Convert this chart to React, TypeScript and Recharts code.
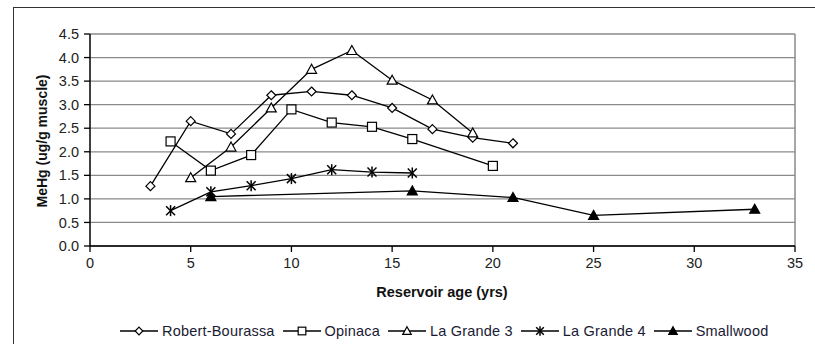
import React from 'react';
import {
  LineChart, Line, XAxis, YAxis, CartesianGrid, ReferenceLine, Label,
} from 'recharts';

// reservoir age (yrs) and MeHg (ug/g muscle) per reservoir
const rbAge = [3, 5, 7, 9, 11, 13, 15, 17, 19, 21];
const rbHg = [1.27, 2.65, 2.38, 3.2, 3.28, 3.2, 2.93, 2.48, 2.3, 2.18];

const opAge = [4, 6, 8, 10, 12, 14, 16, 20];
const opHg = [2.22, 1.6, 1.93, 2.9, 2.62, 2.53, 2.27, 1.7];

const lg3Age = [5, 7, 9, 11, 13, 15, 17, 19];
const lg3Hg = [1.45, 2.1, 2.93, 3.75, 4.15, 3.52, 3.1, 2.4];

const lg4Age = [4, 6, 8, 10, 12, 14, 16];
const lg4Hg = [0.75, 1.15, 1.28, 1.43, 1.62, 1.57, 1.55];

const swAge = [6, 16, 21, 25, 33];
const swHg = [1.05, 1.17, 1.03, 0.65, 0.78];

const xTicks = [0, 5, 10, 15, 20, 25, 30, 35];
const yTicks = [0, 0.5, 1, 1.5, 2, 2.5, 3, 3.5, 4, 4.5];

const pairs = (xs: number[], ys: number[]) => xs.map((x, i) => ({ x, y: ys[i] }));

type Shape = 'diamond' | 'square' | 'triangle' | 'star' | 'filled';

function Marker({ cx, cy, shape, s = 1 }: { cx: number; cy: number; shape: Shape; s?: number }) {
  const sw = 1.2;
  if (shape === 'diamond') {
    const r = 4.5 * s;
    return <polygon points={`${cx},${cy - r} ${cx + r},${cy} ${cx},${cy + r} ${cx - r},${cy}`} fill="#fff" stroke="#000" strokeWidth={sw} />;
  }
  if (shape === 'square') {
    const h = 4.5 * s;
    return <rect x={cx - h} y={cy - h} width={2 * h} height={2 * h} fill="#fff" stroke="#000" strokeWidth={sw} />;
  }
  if (shape === 'triangle' || shape === 'filled') {
    const fill = shape === 'filled' ? '#000' : '#fff';
    return <polygon points={`${cx},${cy - 5 * s} ${cx + 5 * s},${cy + 4 * s} ${cx - 5 * s},${cy + 4 * s}`} fill={fill} stroke="#000" strokeWidth={sw} />;
  }
  const r = 4.5 * s;
  return (
    <g stroke="#000" strokeWidth={1.5}>
      <line x1={cx - r} y1={cy - r} x2={cx + r} y2={cy + r} />
      <line x1={cx - r} y1={cy + r} x2={cx + r} y2={cy - r} />
      <line x1={cx} y1={cy - r - 1} x2={cx} y2={cy + r + 1} />
    </g>
  );
}

const dotOf = (shape: Shape) => (props: any) => (
  <Marker key={`${shape}-${props.index}`} cx={props.cx} cy={props.cy} shape={shape} />
);

const series: { name: string; shape: Shape; data: { x: number; y: number }[] }[] = [
  { name: 'Robert-Bourassa', shape: 'diamond', data: pairs(rbAge, rbHg) },
  { name: 'Opinaca', shape: 'square', data: pairs(opAge, opHg) },
  { name: 'La Grande 3', shape: 'triangle', data: pairs(lg3Age, lg3Hg) },
  { name: 'La Grande 4', shape: 'star', data: pairs(lg4Age, lg4Hg) },
  { name: 'Smallwood', shape: 'filled', data: pairs(swAge, swHg) },
];

const font = '"Liberation Sans", Arial, sans-serif';

export default function App() {
  return (
    <div style={{ position: 'absolute', left: 0, top: 0, width: 815, height: 344, overflow: 'hidden', background: '#fff', fontFamily: font }}>
      <div style={{ position: 'absolute', left: 13, top: 7, width: 900, height: 400, borderLeft: '1.5px solid #333', borderTop: '1.5px solid #333' }} />
      <div style={{ position: 'absolute', left: 0, top: 0 }}>
        <LineChart width={815} height={344} margin={{ top: 34, right: 20, left: 0, bottom: 0 }}>
          <CartesianGrid vertical={false} stroke="#8a8a8a" strokeWidth={1.3} />
          <ReferenceLine x={35} stroke="#8a8a8a" strokeWidth={1.5} />
          <XAxis
            type="number"
            dataKey="x"
            domain={[0, 35]}
            ticks={xTicks}
            allowDataOverflow
            height={98}
            tickSize={6}
            tickMargin={6}
            axisLine={{ stroke: '#000', strokeWidth: 1.5 }}
            tickLine={{ stroke: '#000', strokeWidth: 1.3 }}
            tick={{ fontSize: 14.5, fill: '#222', fontFamily: font }}
          >
            <Label
              content={() => (
                <text x={442} y={297} textAnchor="middle" fontSize={14.5} fontWeight="bold" fill="#111" fontFamily={font}>
                  Reservoir age (yrs)
                </text>
              )}
            />
          </XAxis>
          <YAxis
            type="number"
            domain={[0, 4.5]}
            ticks={yTicks}
            width={90}
            tickSize={6}
            tickMargin={5}
            tickFormatter={(v: number) => v.toFixed(1)}
            axisLine={{ stroke: '#000', strokeWidth: 1.5 }}
            tickLine={{ stroke: '#000', strokeWidth: 1.3 }}
            tick={{ fontSize: 14.5, fill: '#222', fontFamily: font }}
          >
            <Label
              content={() => (
                <text x={47} y={141} transform="rotate(-90 47 141)" textAnchor="middle" fontSize={14} fontWeight="bold" fill="#111" fontFamily={font}>
                  MeHg (ug/g muscle)
                </text>
              )}
            />
          </YAxis>
          {series.map(s => (
            <Line
              key={s.name}
              name={s.name}
              data={s.data}
              dataKey="y"
              type="linear"
              stroke="#000"
              strokeWidth={1.3}
              dot={dotOf(s.shape)}
              activeDot={false}
              isAnimationActive={false}
            />
          ))}
        </LineChart>
      </div>
      <div style={{ position: 'absolute', left: 120, top: 322, height: 18, display: 'flex', alignItems: 'center', gap: 8, fontSize: 14.5, letterSpacing: 0.2, color: '#1a1a33' }}>
        {series.map(s => (
          <div key={s.name} style={{ display: 'flex', alignItems: 'center', gap: 4 }}>
            <svg width={38} height={14}>
              <line x1={0} y1={7} x2={38} y2={7} stroke="#000" strokeWidth={1.3} />
              <Marker cx={19} cy={7} shape={s.shape} s={0.85} />
            </svg>
            <span>{s.name}</span>
          </div>
        ))}
      </div>
    </div>
  );
}
